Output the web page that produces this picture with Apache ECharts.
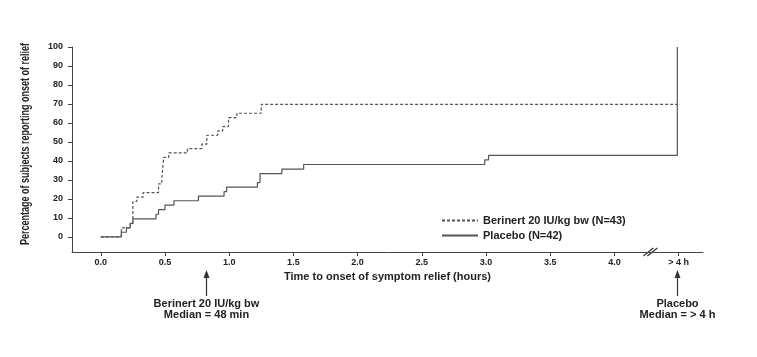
<!DOCTYPE html>
<html><head><meta charset="utf-8">
<script src="https://cdn.jsdelivr.net/npm/echarts@6/dist/echarts.min.js"></script>
<style>html,body{margin:0;padding:0;background:#fff}#c{width:757px;height:357px}</style>
</head><body><div id="c"></div>
<script>
var xTickValues = [0, 0.5, 1.0, 1.5, 2.0, 2.5, 3.0, 3.5, 4.0, 4.5];
var xTickLabels = ['0.0','0.5','1.0','1.5','2.0','2.5','3.0','3.5','4.0','> 4 h'];
var yTickValues = [0,10,20,30,40,50,60,70,80,90,100];
var berinertTime = [0, 0.16, 0.23, 0.25, 0.28, 0.33, 0.45, 0.475, 0.49, 0.53, 0.675, 0.787, 0.826, 0.91, 0.95, 0.995, 1.06, 1.25, 4.49];
var berinertPct  = [0, 4.7, 7.0, 18.6, 20.9, 23.3, 27.9, 30.2, 41.9, 44.2, 46.5, 48.8, 53.5, 55.8, 58.1, 62.8, 65.1, 69.8, 69.8];
var placeboTime = [0, 0.16, 0.2, 0.23, 0.25, 0.43, 0.45, 0.5, 0.57, 0.76, 0.96, 0.98, 1.22, 1.24, 1.41, 1.58, 2.99, 3.02, 4.49, 4.49];
var placeboPct  = [0, 2.4, 4.8, 7.1, 9.5, 11.9, 14.3, 16.7, 19.0, 21.4, 23.8, 26.2, 28.6, 33.3, 35.7, 38.1, 40.5, 42.9, 42.9, 100];
var seriesNames = ['Berinert 20 IU/kg bw (N=43)', 'Placebo (N=42)'];
var yTitle = 'Percentage of subjects reporting onset of relief';
var medianX = [0.82, 4.49];
var medianText = [['Berinert 20 IU/kg bw', 'Median = 48 min'], ['Placebo', 'Median = > 4 h']];
var breakX = 4.28;

function zip(a, b) { return a.map(function (v, i) { return [v, b[i]]; }); }
var FONT = '"Liberation Sans", Arial, sans-serif';
var chart = echarts.init(document.getElementById('c'));
var axisCol = '#444';
chart.setOption({
  animation: false,
  grid: { left: 72, right: 54, top: 47, bottom: 105 },
  legend: {
    orient: 'vertical', left: 436, top: 210, itemWidth: 36, itemHeight: 10, itemGap: 4,
    itemStyle: { opacity: 0, borderWidth: 0 },
    textStyle: { fontFamily: FONT, fontWeight: 'bold', fontSize: 11, color: '#222' },
    data: seriesNames
  },
  xAxis: {
    type: 'value', min: -0.224, max: 4.69,
    name: 'Time to onset of symptom relief (hours)', nameLocation: 'middle', nameGap: 17,
    nameTextStyle: { fontFamily: FONT, fontWeight: 'bold', fontSize: 11, color: '#222' },
    axisLine: { show: true, onZero: false, lineStyle: { color: axisCol, width: 1 } },
    axisTick: { show: true, length: 4, customValues: xTickValues, lineStyle: { color: axisCol } },
    axisLabel: { customValues: xTickValues, margin: 6, fontFamily: FONT, fontWeight: 'bold', fontSize: 9, color: '#222',
      formatter: function (v) { var i = xTickValues.indexOf(v); return i >= 0 ? xTickLabels[i] : ''; } },
    splitLine: { show: false }
  },
  yAxis: {
    type: 'value', min: -8, max: 100,
    axisLine: { show: true, onZero: false, lineStyle: { color: axisCol, width: 1 } },
    axisTick: { show: true, length: 4, customValues: yTickValues, lineStyle: { color: axisCol } },
    axisLabel: { customValues: yTickValues, margin: 9, fontFamily: FONT, fontWeight: 'bold', fontSize: 9, color: '#222' },
    splitLine: { show: false }
  },
  series: [
    { name: seriesNames[0], type: 'line', step: 'end', symbol: 'none', data: zip(berinertTime, berinertPct),
      lineStyle: { color: '#555', width: 1.2, type: [3, 2] }, itemStyle: { color: '#555' } },
    { name: seriesNames[1], type: 'line', step: 'end', symbol: 'none', data: zip(placeboTime, placeboPct),
      lineStyle: { color: '#555', width: 1.2, type: 'solid' }, itemStyle: { color: '#555' } }
  ]
});

var g = [];
var yAxisPx = chart.convertToPixel({ gridIndex: 0 }, [0, -8])[1];
medianX.forEach(function (mx, i) {
  var px = Math.round(chart.convertToPixel({ gridIndex: 0 }, [mx, 0])[0]) + 0.5;
  g.push({ type: 'line', shape: { x1: px, y1: 296, x2: px, y2: 276 }, style: { stroke: '#333', lineWidth: 1.2 } });
  g.push({ type: 'polygon', shape: { points: [[px - 3, 278], [px + 3, 278], [px, 270]] }, style: { fill: '#333' } });
  medianText[i].forEach(function (t, j) {
    g.push({ type: 'text', x: px, y: 304 + j * 11, style: { text: t, fill: '#222', font: 'bold 11px ' + FONT, align: 'center', verticalAlign: 'middle' } });
  });
});
var bx = chart.convertToPixel({ gridIndex: 0 }, [breakX, 0])[0];
[-2, 2].forEach(function (d) {
  g.push({ type: 'line', shape: { x1: bx + d - 5, y1: yAxisPx + 4, x2: bx + d + 5, y2: yAxisPx - 4 }, style: { stroke: '#333', lineWidth: 1.2 } });
});
g.push({ type: 'text', x: 26, y: 144, rotation: Math.PI / 2, scaleX: 0.75,
  style: { text: yTitle, fill: '#222', font: 'bold 12px ' + FONT, align: 'center', verticalAlign: 'middle' } });
chart.setOption({ graphic: g });
</script></body></html>
